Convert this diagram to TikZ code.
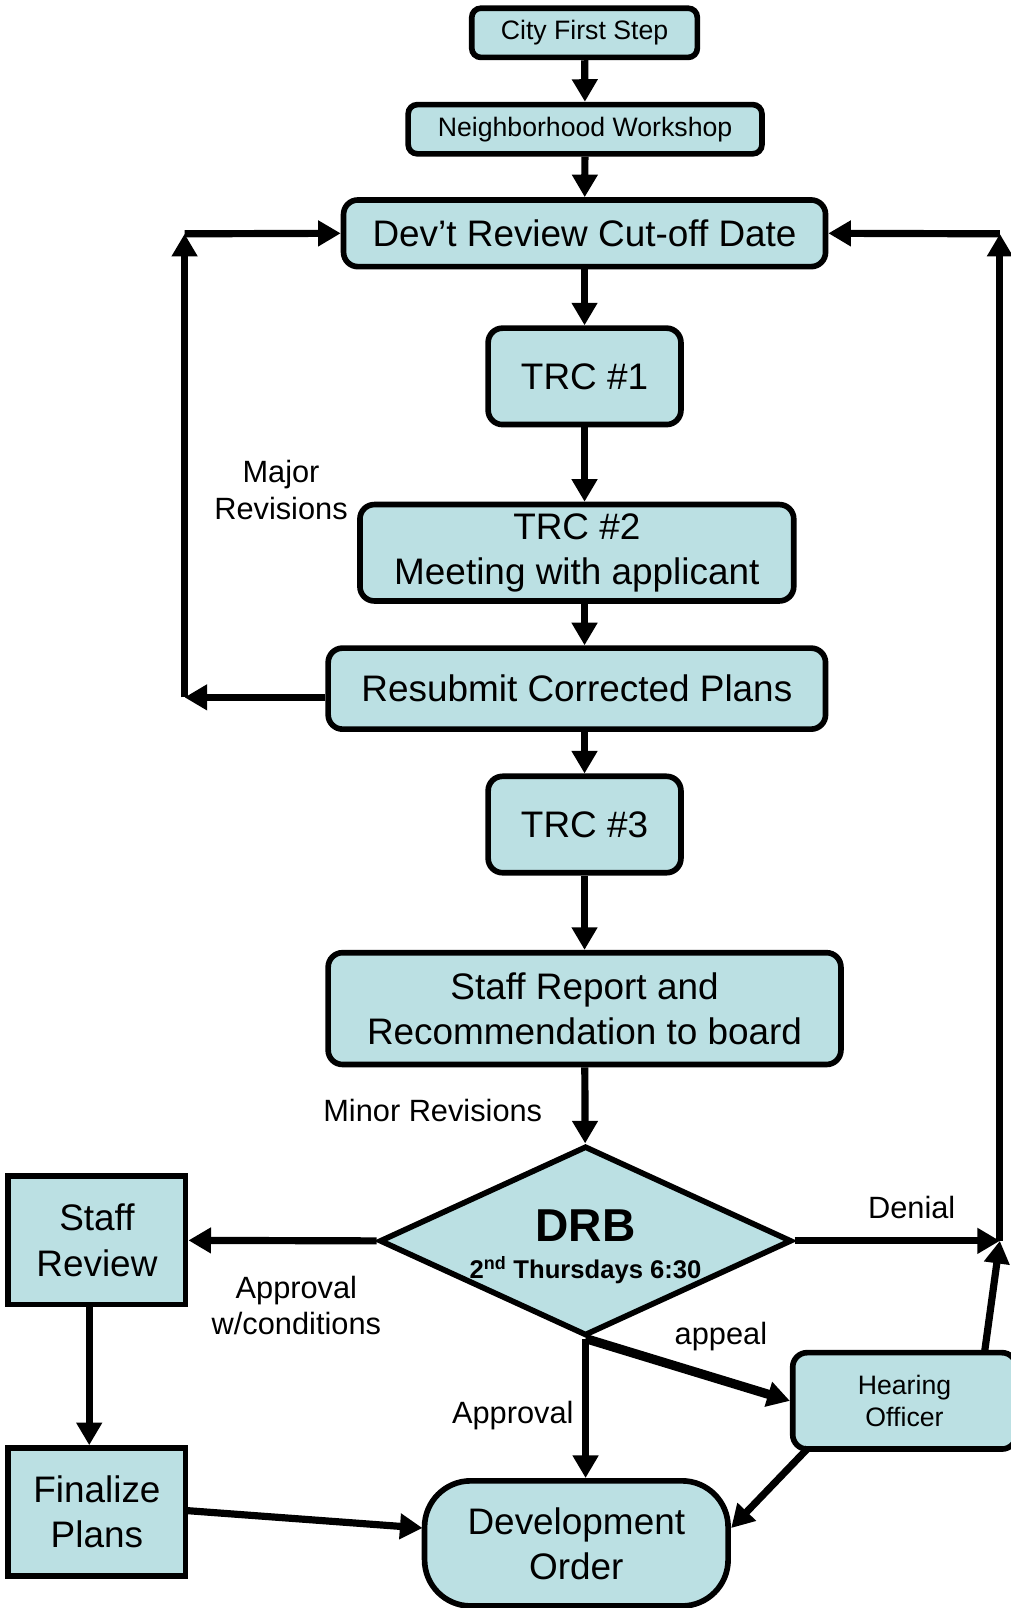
\documentclass[tikz,border=0pt]{standalone}
\usepackage{fontspec}
\setmainfont{Liberation Sans}
\usetikzlibrary{arrows.meta,positioning,shapes.geometric}
\definecolor{boxblue}{RGB}{187,224,227}
\newcommand{\fsbig}{\fontsize{36}{44}\selectfont}
\newcommand{\fssmall}{\fontsize{26}{31}\selectfont}
\newcommand{\fslbl}{\fontsize{30}{36}\selectfont}
\tikzset{>={Triangle[length=22pt,width=24pt]}}
\tikzstyle{box}=[draw,line width=5.5pt,fill=boxblue,rounded corners=14pt,align=center,inner sep=0pt,font=\fsbig]
\tikzstyle{smallbox}=[box,rounded corners=9pt,font=\fssmall]
\tikzstyle{sqbox}=[box,rounded corners=0pt]
\tikzstyle{decision}=[diamond,draw,line width=5.5pt,fill=boxblue,inner sep=0pt,minimum width=402pt,minimum height=185pt]
\tikzstyle{lbl}=[align=center,inner sep=0pt,font=\fslbl]
\begin{document}
\begin{tikzpicture}[x=1pt,y=-1pt]
\useasboundingbox (0,0) rectangle (985,1568);
% main column
\node[smallbox,minimum width=220pt,minimum height=48pt] (city) at (570,32) {City First Step};
\node[smallbox,minimum width=345pt,minimum height=48pt] (nbhd) at (570.5,126) {Neighborhood Workshop};
\node[box,minimum width=470pt,minimum height=65pt] (cutoff) at (570,227.5) {Dev’t Review Cut-off Date};
\node[box,minimum width=188pt,minimum height=94pt] (trca) at (570,367) {TRC \#1};
\node[box,minimum width=423pt,minimum height=94pt] (trcb) at (562.5,539) {TRC \#2\\Meeting with applicant};
\node[box,minimum width=485pt,minimum height=79pt] (resub) at (562.5,671.5) {Resubmit Corrected Plans};
\node[box,minimum width=188pt,minimum height=94pt] (trcc) at (570,804) {TRC \#3};
\node[box,minimum width=500pt,minimum height=109pt] (report) at (570,983.5) {Staff Report and\\Recommendation to board};
\node[decision] (drb) at (571,1210) {};
\node[lbl] (drbtxt) at (571,1216) {{\fontsize{45}{45}\selectfont\bfseries DRB}\\[0pt]{\fontsize{25}{28}\selectfont\bfseries 2\textsuperscript{nd} Thursdays 6:30}};
% outcomes
\node[sqbox,minimum width=173pt,minimum height=125pt] (staff) at (94.5,1209.5) {Staff\\Review};
\node[sqbox,minimum width=173pt,minimum height=125pt] (final) at (94.5,1474.5) {Finalize\\Plans};
\node[smallbox,rounded corners=14pt,minimum width=218pt,minimum height=94pt] (hearing) at (882,1366) {Hearing\\Officer};
\node[box,rounded corners=45pt,minimum width=296pt,minimum height=122pt] (order) at (562,1505) {Development\\Order};
% bends
\coordinate (majB) at (180,680);
\coordinate (majT) at (180,228);
\coordinate (denR) at (975,1210);
\coordinate (denT) at (975,228);
\coordinate (hearUp) at (960,1319);
\coordinate (hearOut) at (788,1412);
\coordinate (finOut) at (182,1473);
\coordinate (ordL) at (412,1490);
\coordinate (ordR) at (713,1490);
% labels
\node[lbl] (major) at (274,478) {Major\\Revisions};
\node[lbl] (minor) at (422,1083) {Minor Revisions};
\node[lbl] (apcond) at (289,1273) {Approval\\w/conditions};
\node[lbl] (denial) at (889,1177) {Denial};
\node[lbl] (appeal) at (703,1303) {appeal};
\node[lbl] (approval) at (500,1380) {Approval};
\path[->,line width=7pt]
(city) edge (nbhd)
(nbhd) edge (cutoff)
(cutoff) edge (trca)
(trca.south) edge (trca.south |- trcb.north)
(trcb.south -| trca.south) edge (trca.south |- resub.north)
(resub.south -| trca.south) edge (trcc.north)
(trcc) edge (report)
(report) edge (drb)
(resub.west |- majB) edge (majB)
(majB) edge (majT)
(majT) edge (cutoff.west)
(drb.east) edge (denR)
(hearUp) edge (denR)
(denR) edge (denT)
(denT) edge (cutoff.east)
(drb.west) edge (staff.east)
([xshift=-7.5pt]staff.south) edge ([xshift=-7.5pt]final.north)
(finOut) edge (ordL)
(drb.south) edge (drb.south |- order.north)
(hearOut) edge (ordR);
\draw[->,line width=9pt] (drb.south) -- (hearing.west);
\end{tikzpicture}
\end{document}
